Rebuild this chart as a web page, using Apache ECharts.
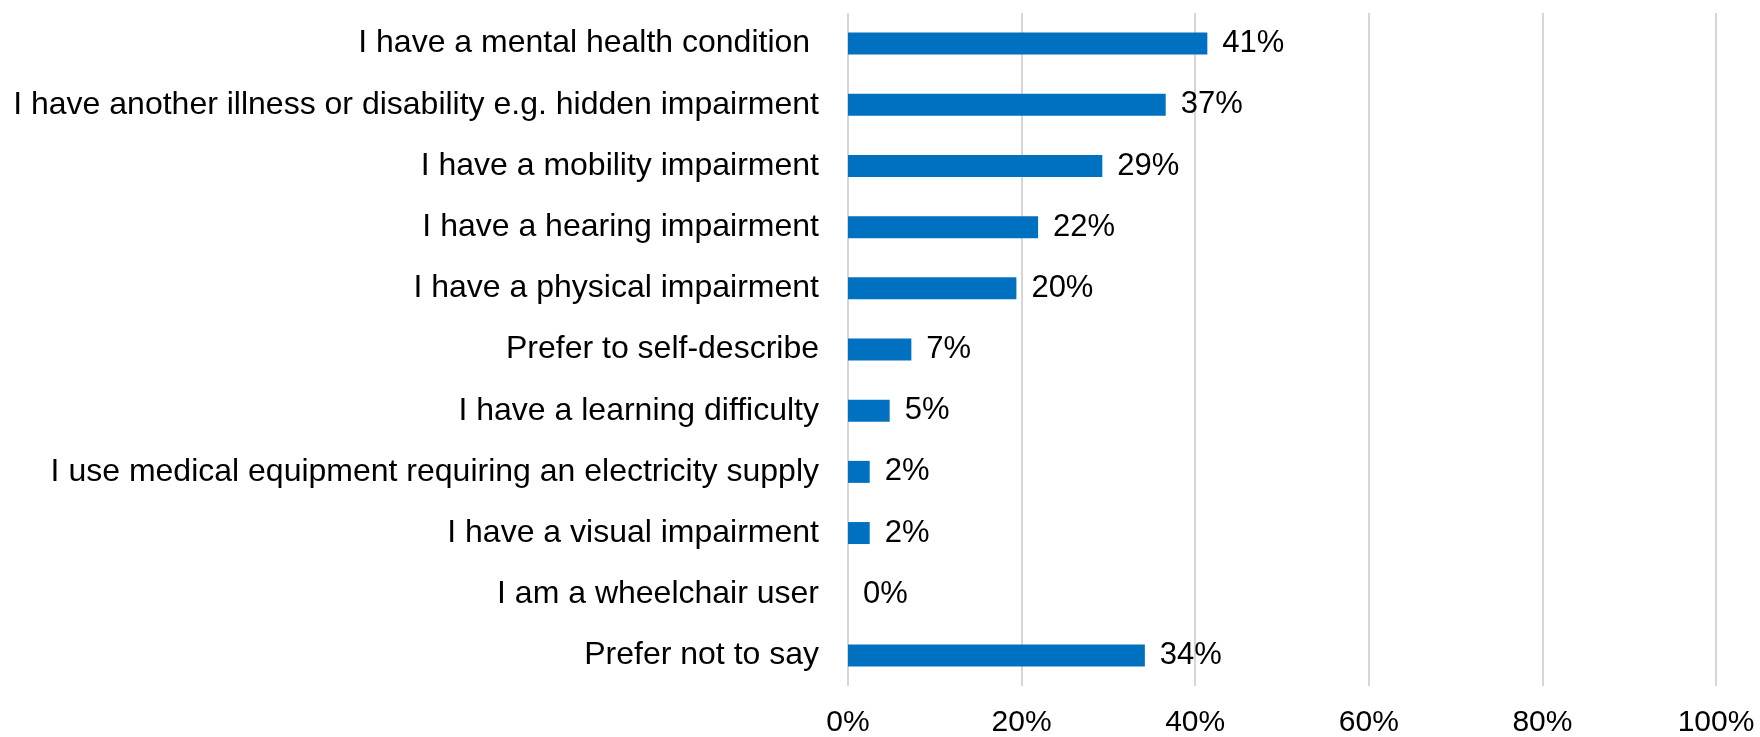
<!DOCTYPE html>
<html>
<head>
<meta charset="utf-8">
<script src="https://cdn.jsdelivr.net/npm/echarts@6/dist/echarts.min.js"></script>
<style>
html,body{margin:0;padding:0;background:#fff;}
#chart{width:1760px;height:737px;}
</style>
</head>
<body>
<div id="chart"></div>
<script>
const categories = [
  "I have a mental health condition ",
  "I have another illness or disability e.g. hidden impairment",
  "I have a mobility impairment",
  "I have a hearing impairment",
  "I have a physical impairment",
  "Prefer to self-describe",
  "I have a learning difficulty",
  "I use medical equipment requiring an electricity supply",
  "I have a visual impairment",
  "I am a wheelchair user",
  "Prefer not to say"
];
const values = [41.4, 36.6, 29.3, 21.9, 19.4, 7.3, 4.8, 2.5, 2.5, 0, 34.2];
const valueLabels = ["41%", "37%", "29%", "22%", "20%", "7%", "5%", "2%", "2%", "0%", "34%"];
const tickLabels = ["0%", "20%", "40%", "60%", "80%", "100%"];

const FONT = '"Liberation Sans", Arial, sans-serif';
const chart = echarts.init(document.getElementById('chart'), null, {renderer: 'canvas'});
chart.setOption({
  animation: false,
  backgroundColor: '#fff',
  grid: {left: 848, right: 44, top: 13, bottom: 51, containLabel: false, outerBoundsMode: 'none'},
  xAxis: {
    type: 'value', min: 0, max: 100, interval: 20,
    axisLine: {show: false}, axisTick: {show: false},
    splitLine: {show: true, lineStyle: {color: '#d6d6d6', width: 2}},
    axisLabel: {
      color: '#000', fontFamily: FONT, fontSize: 30, margin: 22,
      formatter: function (v) { return tickLabels[Math.round(v / 20)]; }
    }
  },
  yAxis: {
    type: 'category', data: categories, inverse: true,
    axisLine: {show: false}, axisTick: {show: false},
    axisLabel: {color: '#000', fontFamily: FONT, fontSize: 32, margin: 29}
  },
  series: [{
    type: 'bar', data: values, barWidth: 22,
    itemStyle: {color: '#0070C0'},
    label: {
      show: true, position: 'right', distance: 15,
      color: '#000', fontFamily: FONT, fontSize: 31,
      formatter: function (p) { return valueLabels[p.dataIndex]; }
    }
  }]
});
</script>
</body>
</html>
